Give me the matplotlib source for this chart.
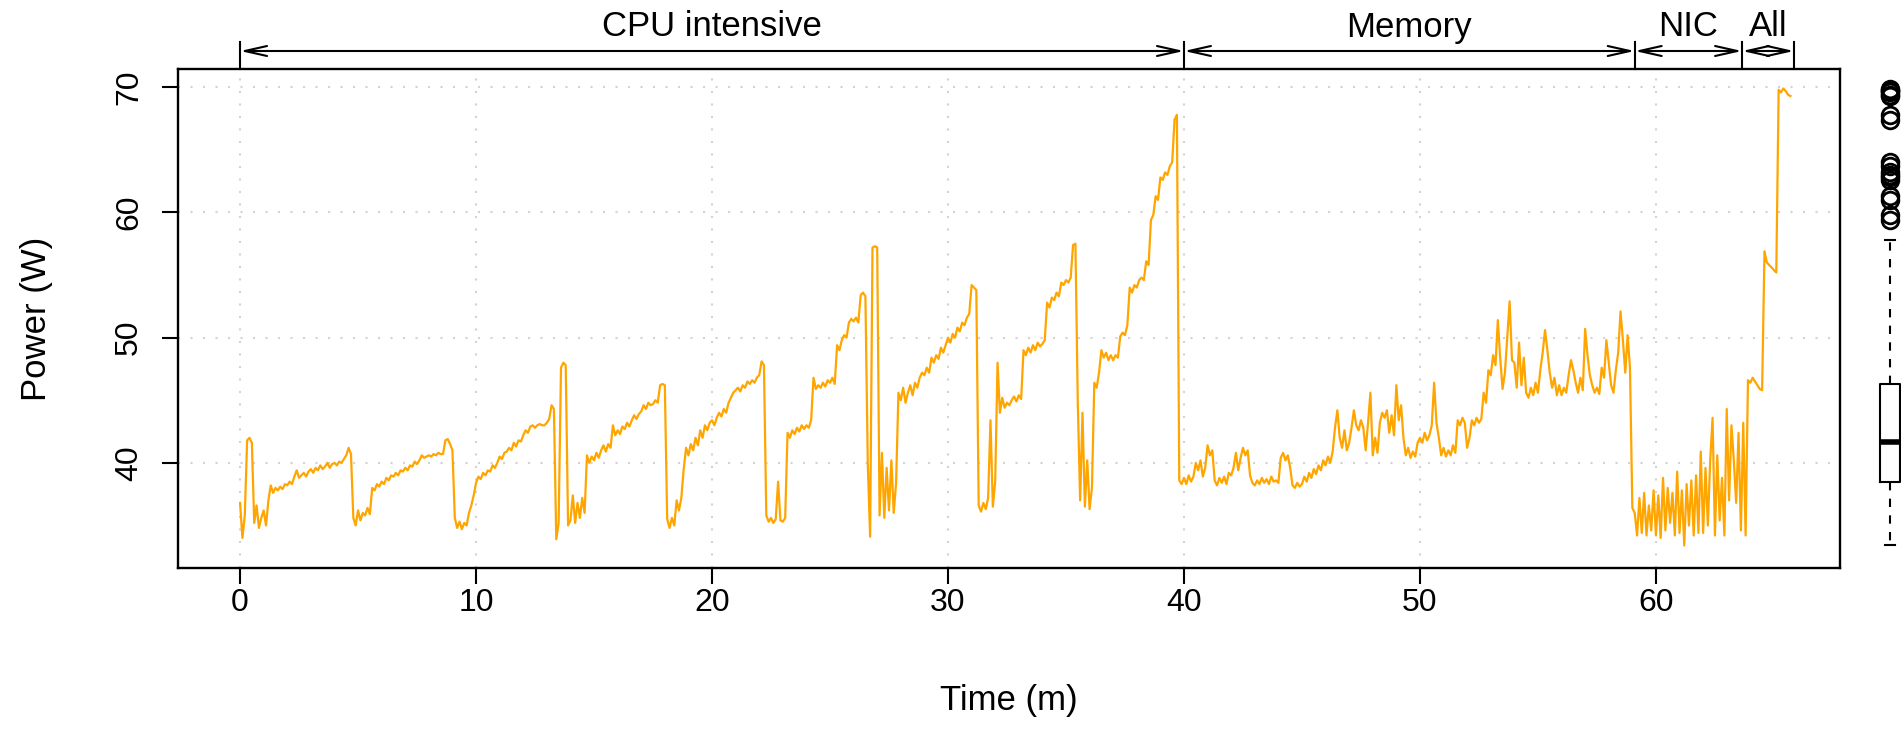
import numpy as np
import matplotlib
matplotlib.use("Agg")
import matplotlib.pyplot as plt

plt.rcParams['font.family'] = ['Liberation Sans', 'DejaVu Sans']

# power readings, one row per minute, 0.1 min apart
power_rows = [
    [36.8, 34.0, 35.8, 41.8, 42.0, 41.6, 35.2, 36.6, 34.8, 35.6],   # 0
    [36.2, 35.0, 37.0, 38.2, 37.6, 38.0, 37.8, 38.1, 37.9, 38.3],
    [38.2, 38.5, 38.3, 38.9, 39.4, 38.8, 39.0, 39.2, 38.9, 39.3],
    [39.5, 39.2, 39.6, 39.4, 39.8, 39.5, 39.7, 40.0, 39.6, 39.9],
    [40.0, 39.8, 40.1, 40.0, 40.3, 40.6, 41.2, 40.7, 35.6, 35.0],
    [36.2, 35.4, 36.0, 35.8, 36.4, 35.9, 38.0, 37.8, 38.3, 38.1],   # 5
    [38.5, 38.3, 38.8, 38.6, 39.0, 38.9, 39.2, 39.0, 39.4, 39.3],
    [39.6, 39.4, 39.8, 39.7, 40.1, 39.9, 40.2, 40.6, 40.4, 40.5],
    [40.6, 40.5, 40.7, 40.6, 40.8, 40.7, 40.7, 41.8, 41.9, 41.5],
    [41.0, 35.6, 34.8, 35.3, 34.7, 35.2, 35.0, 36.0, 36.6, 37.4],
    [38.4, 38.9, 38.7, 39.2, 39.0, 39.4, 39.3, 39.8, 39.6, 40.0],   # 10
    [40.5, 40.3, 40.8, 40.9, 41.2, 41.0, 41.6, 41.3, 41.8, 41.7],
    [42.2, 42.6, 42.4, 42.9, 43.0, 42.8, 43.0, 43.1, 43.0, 43.0],
    [43.2, 43.5, 44.6, 44.3, 33.9, 35.2, 47.6, 48.0, 47.8, 35.0],
    [35.4, 37.4, 35.2, 36.8, 35.6, 37.2, 36.0, 40.6, 40.0, 40.5],
    [40.2, 40.8, 40.4, 41.0, 41.4, 40.9, 41.5, 41.2, 43.0, 42.2],   # 15
    [42.6, 42.3, 42.9, 42.7, 43.2, 42.9, 43.4, 43.8, 43.5, 43.9],
    [44.1, 44.6, 44.3, 44.8, 44.6, 44.7, 45.0, 44.8, 46.2, 46.3],
    [46.2, 35.5, 34.8, 35.6, 35.0, 37.0, 36.2, 37.2, 39.5, 41.2],
    [40.6, 41.5, 41.0, 42.0, 41.4, 42.6, 42.0, 43.0, 42.6, 43.2],
    [43.4, 43.0, 43.6, 44.0, 43.7, 44.3, 44.0, 44.8, 45.2, 45.6],   # 20
    [45.8, 46.0, 45.7, 46.2, 46.0, 46.5, 46.3, 46.6, 46.4, 46.8],
    [47.0, 48.1, 47.8, 35.8, 35.3, 35.6, 35.2, 35.5, 38.5, 35.4],
    [35.3, 35.6, 42.4, 42.0, 42.6, 42.3, 42.8, 42.5, 43.0, 42.7],
    [43.0, 42.8, 43.4, 46.8, 45.9, 46.2, 46.0, 46.4, 46.1, 46.6],
    [46.4, 46.8, 46.3, 49.4, 49.0, 49.8, 50.2, 50.0, 51.2, 51.5],   # 25
    [51.3, 51.6, 51.2, 53.4, 53.6, 53.3, 40.0, 34.1, 57.2, 57.3],
    [57.2, 35.8, 40.8, 35.6, 39.6, 36.2, 40.2, 36.0, 38.4, 45.6],
    [45.0, 46.0, 44.8, 45.6, 46.2, 45.4, 46.4, 46.0, 46.8, 47.2],
    [47.0, 47.6, 47.2, 48.4, 48.0, 48.6, 48.3, 49.2, 48.8, 49.4],
    [50.0, 49.6, 50.3, 50.0, 50.8, 50.5, 51.2, 51.0, 51.6, 51.9],   # 30
    [54.2, 54.0, 53.8, 36.6, 36.1, 36.8, 36.3, 37.2, 43.4, 36.5],
    [38.5, 48.0, 44.0, 45.2, 44.4, 44.8, 44.6, 45.0, 45.3, 44.9],
    [45.4, 45.1, 49.0, 48.6, 49.2, 48.8, 49.4, 49.0, 49.6, 49.3],
    [49.5, 49.8, 52.8, 52.4, 53.2, 53.0, 53.6, 53.3, 54.4, 54.2],
    [54.6, 54.4, 54.8, 57.4, 57.5, 44.8, 37.0, 44.0, 36.5, 40.2],   # 35
    [36.3, 38.0, 46.4, 46.0, 47.2, 49.0, 48.4, 48.8, 48.2, 48.6],
    [48.2, 48.6, 48.4, 50.1, 50.4, 50.2, 51.0, 54.0, 53.6, 54.2],
    [54.0, 54.6, 54.8, 54.6, 56.1, 55.8, 59.4, 59.8, 61.3, 61.0],
    [62.8, 62.6, 63.2, 63.0, 63.7, 64.0, 67.4, 67.8, 38.6, 38.3],
    [38.8, 38.3, 39.0, 38.5, 38.9, 40.0, 39.4, 40.2, 38.9, 39.6],   # 40
    [41.4, 40.6, 41.0, 38.6, 38.2, 38.8, 38.4, 38.9, 38.3, 39.2],
    [39.0, 39.6, 40.8, 39.4, 40.4, 41.2, 40.6, 41.0, 39.0, 38.4],
    [38.2, 38.6, 38.3, 38.8, 38.4, 38.7, 38.3, 38.9, 38.5, 38.6],
    [38.4, 40.4, 40.8, 40.2, 40.6, 39.6, 38.2, 38.0, 38.4, 38.1],
    [38.3, 38.9, 38.5, 39.2, 38.8, 39.5, 39.1, 39.8, 39.4, 40.2],   # 45
    [39.8, 40.5, 40.0, 40.9, 42.8, 44.2, 42.0, 41.2, 42.6, 41.0],
    [41.6, 42.8, 44.2, 43.0, 42.6, 43.4, 42.8, 41.0, 43.2, 45.6],
    [40.6, 42.0, 40.8, 43.2, 44.0, 43.6, 44.2, 42.4, 43.8, 42.2],
    [46.2, 43.4, 44.6, 42.0, 40.6, 41.2, 40.4, 40.9, 40.5, 41.6],
    [42.0, 41.6, 42.4, 41.8, 42.2, 43.0, 46.4, 43.2, 42.0, 40.6],   # 50
    [41.2, 40.5, 41.0, 40.6, 41.4, 40.8, 43.4, 43.0, 43.6, 43.2],
    [41.2, 42.0, 43.4, 43.0, 43.6, 43.2, 43.5, 45.6, 44.8, 47.4],
    [47.0, 48.6, 47.8, 51.4, 48.4, 45.9, 47.2, 50.0, 52.9, 48.2],
    [48.0, 46.0, 49.6, 46.2, 48.4, 45.6, 45.2, 46.0, 45.4, 46.4],
    [45.6, 47.4, 48.8, 50.6, 49.0, 47.2, 46.0, 46.8, 45.4, 46.2],   # 55
    [45.4, 46.0, 45.6, 47.0, 48.2, 47.4, 46.4, 45.6, 46.8, 45.8],
    [50.7, 48.6, 47.0, 46.2, 45.6, 46.0, 45.5, 47.6, 46.8, 49.8],
    [48.0, 46.2, 45.6, 47.4, 48.8, 52.1, 49.8, 47.2, 50.2, 47.6],
    [36.4, 36.0, 34.2, 37.2, 34.4, 37.6, 34.2, 36.6, 34.6, 37.8],
    [34.2, 37.4, 34.0, 38.8, 34.6, 38.0, 35.2, 37.6, 34.2, 39.3],   # 60
    [34.4, 37.8, 33.4, 38.3, 35.0, 38.6, 34.2, 39.0, 34.4, 40.9],
    [34.4, 39.6, 35.0, 40.2, 43.6, 34.2, 40.6, 35.4, 38.8, 34.2],
    [44.3, 37.0, 43.0, 40.2, 36.8, 42.4, 34.6, 43.2, 34.2, 46.6],
    [46.4, 46.8, 46.5, 46.2, 45.9, 45.8, 56.9, 56.0, 55.8, 55.6],
    [55.4, 55.2, 69.8, 69.6, 69.9, 69.7, 69.4, 69.3],               # 65
]
power = np.concatenate([np.array(r) for r in power_rows])
minutes = np.arange(len(power)) * 0.1

# workload phases
phase_edges = [0, 40, 59.1, 63.65, 65.85]
phase_names = ["CPU intensive", "Memory", "NIC", "All"]

# boxplot summary
box_med, box_q1, box_q3 = 41.65, 38.5, 46.3
box_lo, box_hi = 33.4, 57.8

W, H = 1901, 743
fig = plt.figure(figsize=(W / 100, H / 100), dpi=100)
L, R_, T, B = 178, 1840, 69, 568
ax = fig.add_axes([L / W, 1 - B / H, (R_ - L) / W, (B - T) / H])

ax.plot(minutes, power, color='#FFA500', lw=1.6)
ax.set_xlim(-2.63, 67.8)
ax.set_ylim(31.6, 71.46)
ax.set_xticks([0, 10, 20, 30, 40, 50, 60])
ax.set_yticks([40, 50, 60, 70])
ax.grid(True, color='#d3d3d3', linestyle=(0, (1, 5)), lw=1.5)
for s in ax.spines.values():
    s.set_linewidth(1.7)
ax.tick_params(direction='out', length=11.5, width=1.5, labelsize=23)
ax.tick_params(axis='x', pad=3)
ax.tick_params(axis='y', pad=13)
for lab in ax.get_yticklabels():
    lab.set_rotation(90)
    lab.set_va('center')

ax.set_xlabel("Time (m)", fontsize=25)
ax.xaxis.set_label_coords(0.5, -0.2665)
ax.xaxis.label.set_va('center')
ax.set_ylabel("Power (W)", fontsize=25)
ax.yaxis.set_label_coords(-0.0854, 0.5)
ax.yaxis.label.set_va('center')

# phase arrows above the plot
tr = ax.get_xaxis_transform()
y_arr = 1 + (T - 51) / (B - T)
y_bar = 1 + (T - 42) / (B - T)
y_txt = 1 + (T - 27) / (B - T)
for x0, x1, name in zip(phase_edges[:-1], phase_edges[1:], phase_names):
    ax.annotate('', xy=(x1, y_arr), xytext=(x0, y_arr), xycoords=tr, textcoords=tr,
                arrowprops=dict(arrowstyle='<->,head_length=0.8,head_width=0.18',
                                mutation_scale=20, lw=1.5, color='black',
                                shrinkA=0, shrinkB=0))
    ax.text((x0 + x1) / 2, y_txt, name, transform=tr, ha='center', va='center',
            fontsize=25)
for x in phase_edges:
    ax.plot([x, x], [1.0, y_bar], transform=tr, color='black', lw=1.5, clip_on=False)

# boxplot of all readings on the right
ax2 = fig.add_axes([1860 / W, 1 - B / H, 60 / W, (B - T) / H])
stats = [dict(med=box_med, q1=box_q1, q3=box_q3, whislo=box_lo, whishi=box_hi,
              fliers=power[power > box_hi])]
ax2.bxp(stats, positions=[1], widths=0.667, capwidths=0.31,
        boxprops=dict(color='black', lw=1.5),
        whiskerprops=dict(color='black', lw=1.5, linestyle=(0, (4, 4))),
        capprops=dict(color='black', lw=1.5),
        medianprops=dict(color='black', lw=4),
        flierprops=dict(marker='o', markerfacecolor='none', markeredgecolor='black',
                        markersize=12, markeredgewidth=2))
ax2.set_xlim(0, 2)
ax2.set_ylim(31.6, 71.46)
ax2.axis('off')

fig.savefig("out.png", dpi=100)
